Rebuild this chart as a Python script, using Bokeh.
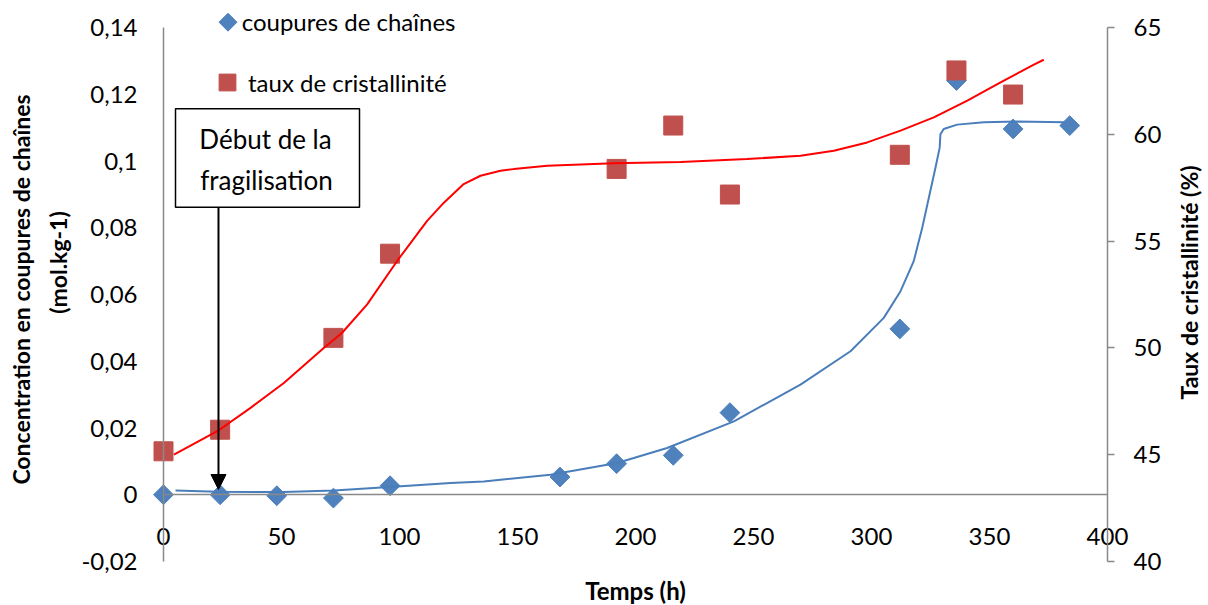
import math
from bokeh.plotting import figure
from bokeh.models import (Range1d, LinearAxis, FixedTicker, Label, BoxAnnotation, Arrow,
                          NormalHead, Legend, LegendItem, CustomJSTickFormatter)
from bokeh.embed import file_html
from bokeh.resources import INLINE

# ---------------- data ----------------
time_coupures = [0, 24, 48, 72, 96, 168, 192, 216, 240, 312, 336, 360, 384]
coupures = [0.0, 0.0, -0.0003, -0.001, 0.0027, 0.0053, 0.0093, 0.0118, 0.0246, 0.0497, 0.1241, 0.1096, 0.1106]

time_cryst = [0, 24, 72, 96, 192, 216, 240, 312, 336, 360]
cristallinite = [45.16, 46.17, 50.47, 54.41, 58.38, 60.41, 57.18, 59.04, 62.99, 61.86]

# hand-drawn trend curves
trend_coupures_x = [5.1, 22.8, 51.0, 72.2, 95.8, 121.6, 135.7, 164.0, 192.2, 213.4, 241.7, 269.9,
                    291.1, 305.2, 312.3, 317.9, 321.5, 324.0, 327.1, 328.9, 329.2, 330.6, 336.3,
                    347.6, 361.7, 381.5]
trend_coupures_y = [0.0013, 0.0009, 0.0008, 0.0013, 0.0023, 0.0035, 0.0040, 0.0060, 0.0095, 0.0140,
                    0.0220, 0.0330, 0.0430, 0.0530, 0.0610, 0.0700, 0.0800, 0.0880, 0.0980, 0.1040,
                    0.1080, 0.1096, 0.1109, 0.1116, 0.1118, 0.1116]

trend_cryst_x = [4.4, 22.8, 36.9, 51.0, 67.9, 75.7, 86.3, 99.0, 111.7, 118.8, 127.2, 134.3, 142.8,
                 148.4, 162.6, 190.8, 219.1, 247.3, 269.9, 284.0, 298.2, 312.3, 326.4, 340.6,
                 354.7, 368.8, 373.0]
trend_cryst_y = [45.0, 46.1, 47.19, 48.36, 50.0, 50.71, 52.04, 54.07, 55.95, 56.8, 57.67, 58.06,
                 58.29, 58.37, 58.53, 58.64, 58.70, 58.84, 59.0, 59.23, 59.62, 60.17, 60.79, 61.58,
                 62.43, 63.26, 63.49]

x_ticks = [0, 50, 100, 150, 200, 250, 300, 350, 400]
left_ticks = [-0.02, 0, 0.02, 0.04, 0.06, 0.08, 0.1, 0.12, 0.14]
right_ticks = [40, 45, 50, 55, 60, 65]

legend_coupures = "coupures de chaînes"
legend_cryst = "taux de cristallinité"
annotation_lines = ["Début de la", "fragilisation"]
annotation_time = 23.3

x_title = "Temps (h)"
left_title = ["Concentration en coupures de chaînes", "(mol.kg-1)"]
right_title = "Taux de cristallinité (%)"

# ---------------- styles / geometry ----------------
FONT = "Lato"
BLUE = "#4F81BD"
RED_MK = "#C0504D"
AXIS_C = "#898989"
TICK_FS = "24px"
TITLE_FS = "23px"

W, H = 1208, 605
X0_PX, X400_PX = 163, 1107          # pixel columns of x = 0 and x = 400
Y_TOP_PX, Y_BOT_PX = 27, 561        # pixel rows of 0.14 / 65 and -0.02 / 40
PX_PER_H = (X400_PX - X0_PX) / 400.0
PX_PER_L = (Y_BOT_PX - Y_TOP_PX) / 0.16
PX_PER_R = (Y_BOT_PX - Y_TOP_PX) / 25.0

def dx(px):
    return (px - X0_PX) / PX_PER_H

def dy(py):
    return 0.14 - (py - Y_TOP_PX) / PX_PER_L

def dyr(py):
    return 65 - (py - Y_TOP_PX) / PX_PER_R

# the frame covers the whole canvas; every axis sits at a fixed location
p = figure(width=W, height=H, output_backend="svg", toolbar_location=None,
           x_range=Range1d(dx(0), dx(W)), y_range=Range1d(dy(H), dy(0)),
           min_border_left=0, min_border_right=0, min_border_top=0, min_border_bottom=0,
           outline_line_color=None, background_fill_color="white", border_fill_color="white")
p.xgrid.visible = False
p.ygrid.visible = False

xa = p.xaxis[0]
xa.fixed_location = 0
xa.bounds = (0, 400)
xa.ticker = FixedTicker(ticks=x_ticks)
xa.axis_line_color = AXIS_C
xa.axis_line_width = 1.5
xa.major_tick_out = 0
xa.major_tick_in = 0
xa.minor_tick_out = 0
xa.minor_tick_in = 0
xa.major_label_standoff = 33
xa.major_label_text_font = FONT
xa.major_label_text_font_size = TICK_FS
xa.major_label_text_color = "black"

ya = p.yaxis[0]
ya.fixed_location = 0
ya.bounds = (-0.02, 0.14)
ya.ticker = FixedTicker(ticks=left_ticks)
ya.formatter = CustomJSTickFormatter(code="return String(Math.round(tick*100)/100).replace('.', ',');")
ya.axis_line_color = AXIS_C
ya.axis_line_width = 1.5
ya.major_tick_out = 0
ya.major_tick_in = 0
ya.minor_tick_out = 0
ya.minor_tick_in = 0
ya.major_label_standoff = 26
ya.major_label_text_font = FONT
ya.major_label_text_font_size = TICK_FS
ya.major_label_text_color = "black"

p.extra_y_ranges = {"cryst": Range1d(dyr(H), dyr(0))}
ra = LinearAxis(y_range_name="cryst", ticker=FixedTicker(ticks=right_ticks), bounds=(40, 65),
                fixed_location=400)
ra.axis_line_color = AXIS_C
ra.axis_line_width = 1.5
ra.major_tick_line_color = AXIS_C
ra.major_tick_line_width = 1.5
ra.major_tick_out = 7
ra.major_tick_in = 0
ra.minor_tick_out = 0
ra.minor_tick_in = 0
ra.major_label_standoff = 19
ra.major_label_text_font = FONT
ra.major_label_text_font_size = TICK_FS
ra.major_label_text_color = "black"
p.add_layout(ra, "right")

# axis titles
def title(text, px, py, angle=0.0, size=TITLE_FS):
    p.add_layout(Label(x=dx(px), y=dy(py), text=text, angle=angle, text_align="center",
                       text_baseline="middle", text_font=FONT, text_font_style="bold",
                       text_font_size=size, text_color="black"))

title(x_title, 635, 590, size="24px")
title(left_title[0], 20, 289, math.pi / 2)
title(left_title[1], 57, 262, math.pi / 2)
title(right_title, 1188, 282, math.pi / 2)

# markers
r_cp = p.scatter(time_coupures, coupures, marker="square", angle=math.pi / 4, size=14,
                 fill_color=BLUE, line_color=BLUE)
r_cr = p.scatter(time_cryst, cristallinite, marker="square", size=19, y_range_name="cryst",
                 fill_color=RED_MK, line_color=RED_MK)

# trend curves
p.line(trend_coupures_x, trend_coupures_y, line_color="#4A7EBB", line_width=2)
p.line(trend_cryst_x, trend_cryst_y, line_color="#FF0000", line_width=2, y_range_name="cryst")

# legend key for the diamonds (legend glyphs are not rotated by Bokeh)
r_key = p.scatter([dx(227.5)], [dy(21.7)], marker="square", angle=math.pi / 4, size=12.7,
                  fill_color=BLUE, line_color=BLUE)

TXT_H = 29
leg1 = Legend(items=[LegendItem(label=legend_coupures, renderers=[r_key])],
              location=(240.7, H - (21.7 - TXT_H / 2) - TXT_H),
              glyph_width=1, glyph_height=1,
              label_standoff=0, padding=0, margin=0, spacing=0, border_line_color=None,
              background_fill_alpha=0, label_text_font=FONT, label_text_font_size=TICK_FS,
              label_text_color="black")
leg2 = Legend(items=[LegendItem(label=legend_cryst, renderers=[r_cr])],
              location=(227 - 21, H - (82.3 - 21) - 42), glyph_width=42, glyph_height=42,
              label_standoff=-12, padding=0, margin=0, spacing=0, border_line_color=None,
              background_fill_alpha=0, label_text_font=FONT, label_text_font_size=TICK_FS,
              label_text_color="black")
p.add_layout(leg1)
p.add_layout(leg2)

# annotation box + arrow
box = BoxAnnotation(left=dx(175), right=dx(359), top=dy(108.3), bottom=dy(206.7),
                    fill_color="white", fill_alpha=1.0, line_color="black", line_alpha=1.0,
                    line_width=1.5)
p.add_layout(box)
p.add_layout(Label(x=dx(265), y=dy(138), text=annotation_lines[0], text_align="center",
                   text_baseline="middle", text_font=FONT, text_font_size="26px", text_color="black"))
p.add_layout(Label(x=dx(266), y=dy(179), text=annotation_lines[1], text_align="center",
                   text_baseline="middle", text_font=FONT, text_font_size="26px", text_color="black"))
p.add_layout(Arrow(end=NormalHead(size=15, fill_color="black", line_color="black"),
                   x_start=annotation_time, y_start=dy(206.7), x_end=annotation_time, y_end=dy(489),
                   line_color="black", line_width=2))

open("out.html", "w").write(file_html(p, INLINE))
